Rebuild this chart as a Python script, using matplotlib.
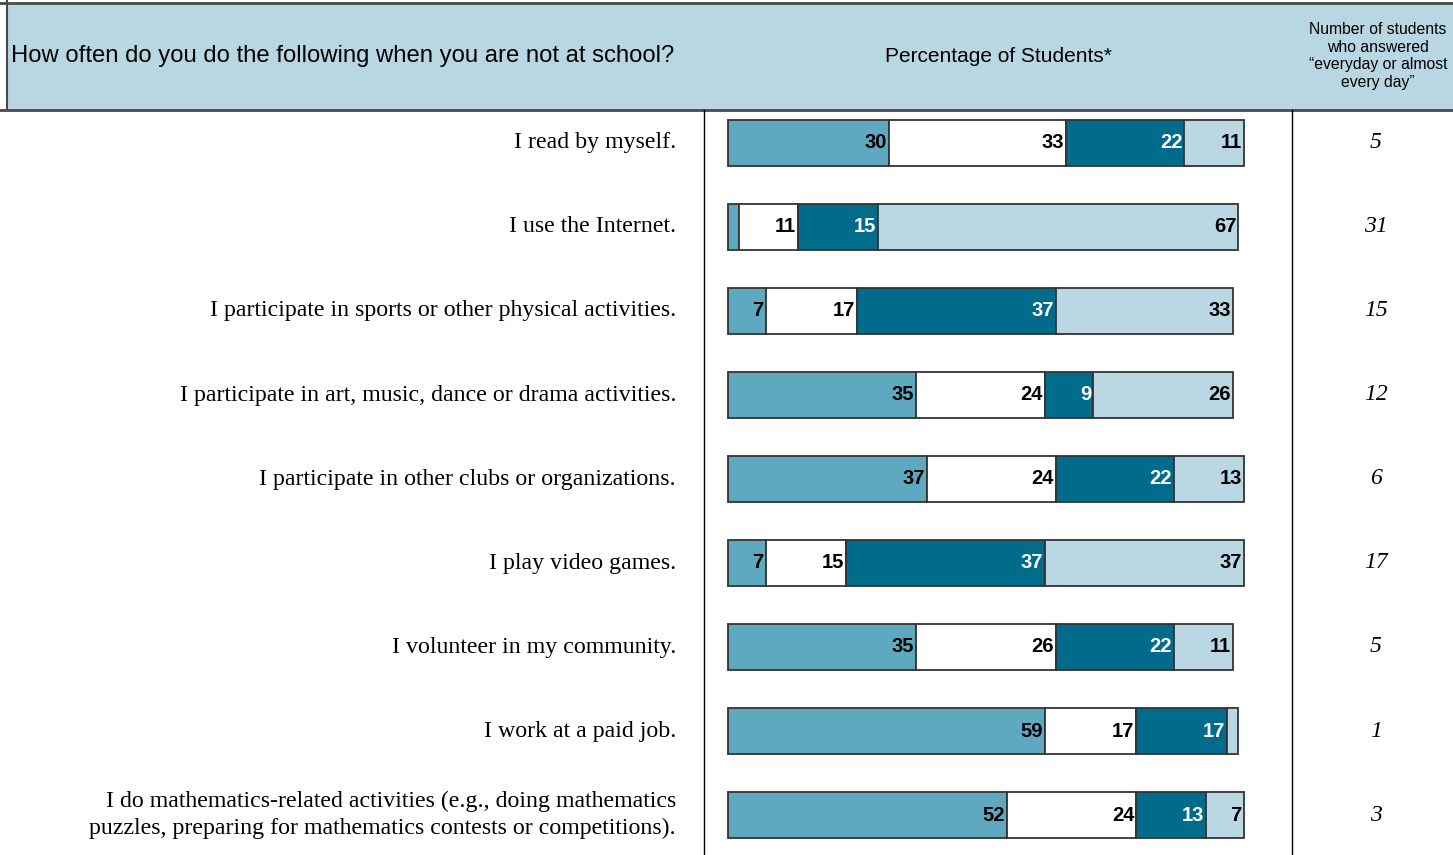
import matplotlib.pyplot as plt
from matplotlib.transforms import blended_transform_factory

# Data
questions = [
    "I read by myself.",
    "I use the Internet.",
    "I participate in sports or other physical activities.",
    "I participate in art, music, dance or drama activities.",
    "I participate in other clubs or organizations.",
    "I play video games.",
    "I volunteer in my community.",
    "I work at a paid job.",
    "I do mathematics-related activities (e.g., doing mathematics\npuzzles, preparing for mathematics contests or competitions).",
]
never = [30, 2, 7, 35, 37, 7, 35, 59, 52]
few_times_year = [33, 11, 17, 24, 24, 15, 26, 17, 24]
few_times_month = [22, 15, 37, 9, 22, 37, 22, 17, 13]
every_day = [11, 67, 33, 26, 13, 37, 11, 2, 7]
n_every_day = [5, 31, 15, 12, 6, 17, 5, 1, 3]

series = [never, few_times_year, few_times_month, every_day]
colors = ["#5fa9c0", "#ffffff", "#006b8a", "#b9d8e3"]
text_colors = ["black", "black", "white", "black"]

W, H = 1453, 855
fig = plt.figure(figsize=(W / 100, H / 100), dpi=100)

# background axes in pixel coordinates
bg = fig.add_axes([0, 0, 1, 1])
bg.set_xlim(0, W)
bg.set_ylim(H, 0)
bg.axis("off")

bg.add_patch(plt.Rectangle((7, 3), W - 7, 107, facecolor="#b9d7e2", edgecolor="none"))
bg.plot([0, W], [3, 3], color="#4a4a4a", lw=2)
bg.plot([0, W], [110, 110], color="#4a4a4a", lw=2)
bg.plot([7, 7], [0, 110], color="#4a4a4a", lw=1.5)
bg.plot([704, 704], [110, H], color="black", lw=1)
bg.plot([1292, 1292], [110, H], color="black", lw=1)

bg.text(11, 56, "How often do you do the following when you are not at school?",
        ha="left", va="center", fontsize=17.2, family="Liberation Sans")
bg.text(998, 56, "Percentage of Students*", ha="center", va="center",
        fontsize=15, family="Liberation Sans")
bg.text(1378, 56, "Number of students\nwho answered\n\u201ceveryday or almost\nevery day\u201d",
        ha="center", va="center", fontsize=11.3, family="Liberation Sans",
        linespacing=1.25)

# bar axes: spans between the two vertical lines
px_per = 5.37
x0 = 728
ax = fig.add_axes([704 / W, 0, (1292 - 704) / W, (H - 110) / H])
ax.set_xlim((704 - x0) / px_per, (1292 - x0) / px_per)
row0, step = 143, 84
ax.set_ylim((H - row0) / step, (110 - row0) / step)
ax.axis("off")

rows = list(range(len(questions)))
left = [0] * len(rows)
for vals, c, tc in zip(series, colors, text_colors):
    ax.barh(rows, vals, left=left, height=0.55, color=c, edgecolor="#333333", lw=1.3)
    for i, v in enumerate(vals):
        if v >= 5:
            ax.text(left[i] + v - 0.35, i, str(v), ha="right", va="center",
                    fontsize=14.5, fontweight="bold", color=tc, family="Liberation Sans")
    left = [l + v for l, v in zip(left, vals)]

tr = blended_transform_factory(fig.transFigure, ax.transData)
for i, q in enumerate(questions):
    fig.text(676 / W, i, q, transform=tr, ha="right", va="center", fontsize=17.2,
             family="Liberation Serif", multialignment="right", linespacing=1.35)
    fig.text(1376 / W, i, str(n_every_day[i]), transform=tr, ha="center", va="center",
             fontsize=17, family="Liberation Serif", style="italic")

fig.savefig("out.png", dpi=100)
